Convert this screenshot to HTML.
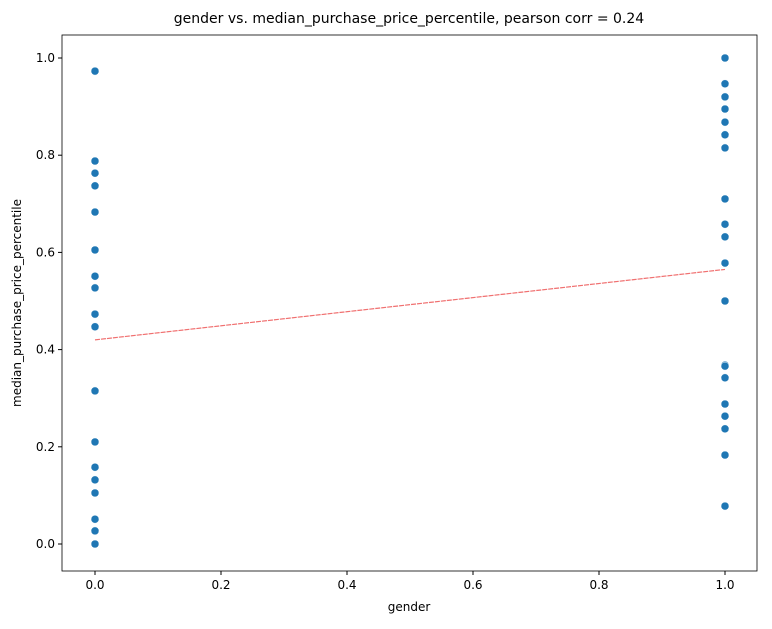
<!DOCTYPE html>
<html><head><meta charset="utf-8"><style>
body{margin:0;background:#fff;font-family:"Liberation Sans","DejaVu Sans",sans-serif;}
svg text{font-family:"DejaVu Sans","Liberation Sans",sans-serif;}
</style></head><body>
<svg id="chart" width="772" height="624" xmlns="http://www.w3.org/2000/svg"></svg>
<script>
const xs0 = [0.973,0.788,0.763,0.737,0.683,0.605,0.551,0.527,0.473,0.447,0.315,0.210,0.158,0.132,0.105,0.051,0.027,0.0];
const xs1 = [1.0,0.947,0.920,0.895,0.868,0.842,0.815,0.710,0.658,0.632,0.578,0.5,0.368,0.366,0.342,0.288,0.263,0.237,0.183,0.078];
const xTicks = [0.0,0.2,0.4,0.6,0.8,1.0];
const yTicks = [0.0,0.2,0.4,0.6,0.8,1.0];
const trend = [0.42,0.565];
const L=62,R=757,T=35,B=571;
const sx=v=>95+v*630, sy=v=>544-v*486;
const svg=document.getElementById('chart');const NS='http://www.w3.org/2000/svg';
function mk(t,a,p){const e=document.createElementNS(NS,t);for(const k in a)e.setAttribute(k,a[k]);(p||svg).appendChild(e);return e;}
const frame=mk('rect',{x:L,y:T,width:R-L,height:B-T,fill:'none',stroke:'#000','stroke-width':0.8});


xTicks.forEach(v=>{const x=sx(v);
 const l=mk('line',{x1:x,x2:x,y1:B,y2:B+4,stroke:'#000'});
 
 
 const t=mk('text',{x:x,y:B+18,'text-anchor':'middle','font-size':12});t.textContent=v.toFixed(1);
 
 });
yTicks.forEach(v=>{const y=sy(v);
 const l=mk('line',{x1:L-4,x2:L,y1:y,y2:y,stroke:'#000'});
 
 
 const t=mk('text',{x:L-7,y:y+4,'text-anchor':'end','font-size':12});t.textContent=v.toFixed(1);
 
 });
function dot(x,v){const c=mk('circle',{cx:sx(x),cy:sy(v),r:4,fill:'#1f77b4',stroke:'#fff','stroke-width':0.5});
 
 }
xs0.forEach(v=>dot(0,v));xs1.forEach(v=>dot(1,v));
const tl=mk('line',{x1:sx(0),y1:sy(trend[0]),x2:sx(1),y2:sy(trend[1]),stroke:'#f07070','stroke-width':1.2,'stroke-dasharray':'5,1'});


const ti=mk('text',{x:409,y:23,'text-anchor':'middle','font-size':14});ti.textContent='gender vs. median_purchase_price_percentile, pearson corr = 0.24';


const xl=mk('text',{x:409,y:611,'text-anchor':'middle','font-size':12});xl.textContent='gender';


const yl=mk('text',{x:21,y:303,'text-anchor':'middle','font-size':12,transform:'rotate(-90 21 303)'});yl.textContent='median_purchase_price_percentile';


</script>
</body></html>
